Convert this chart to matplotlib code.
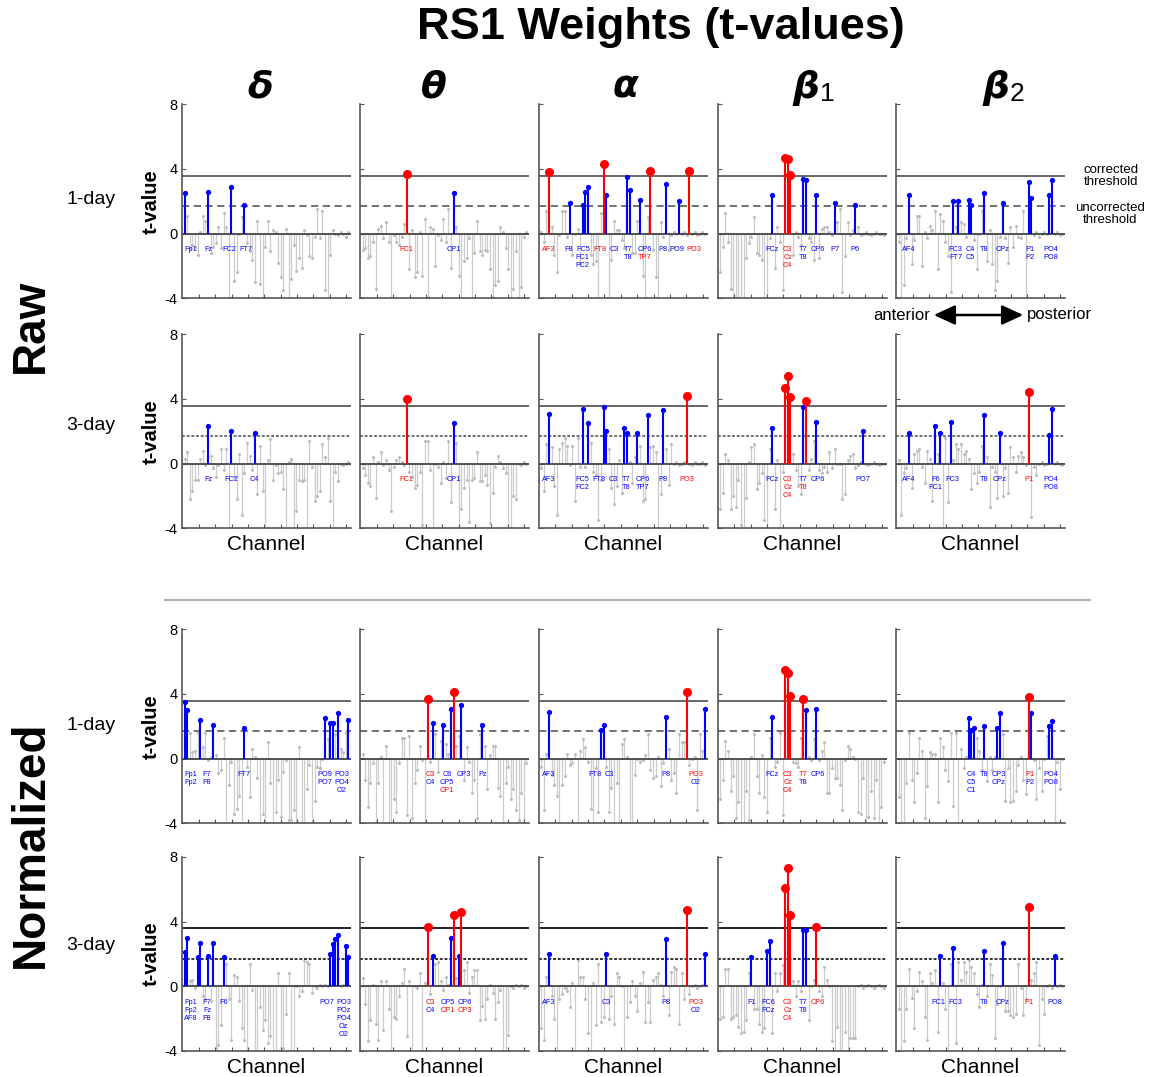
import numpy as np
import matplotlib
matplotlib.use("Agg")
import matplotlib.pyplot as plt

plt.rcParams['font.family'] = ['Liberation Sans', 'DejaVu Sans']

W, H = 1154, 1077

corr_thr = 3.58
unc_thr = 1.72

band_names = ["δ", "θ", "α", "β", "β"]
band_subs = ["", "", "", "1", "2"]
day_names = ["1-day", "3-day", "1-day", "3-day"]

# ---- Raw, 1-day ----
raw1_delta = [2.5, 1.1, -0.9, -0.7, -0.8, -1.3, 0.1, 1.1, 0.8, 2.6, -1.2, -0.8, -0.6, 0.4, -0.9, 1.3,
              0.4, -4.5, 2.9, -2.9, -2.4, 0.0, 1.0, 1.8, -0.6, -1.1, -1.6, -3.0, 0.8, -3.1, -4.5, -0.8,
              0.8, -1.1, 0.2, 0.1, -1.8, -2.7, -3.5, 0.3, -4.5, -2.8, -0.7, -2.3, -1.5, -2.1, 0.2, -0.1,
              -1.4, -1.5, -0.2, 1.5, -0.3, 1.4, -3.5, -4.5, -1.3, 0.2, 0.0, -0.1, 0.1, 0.0, -0.2, 0.1]
raw1_delta_lab = ["Fp1", "Fz", "FC2", "FT7"]

raw1_theta = [-1.0, -0.9, -1.5, -1.4, -0.5, -3.4, 0.3, 0.5, -0.3, 0.7, -0.5, -4.5, -0.1, -0.5, -0.7, -0.2,
              0.6, 3.7, -2.2, 0.2, -2.7, -2.4, 0.1, -2.6, 0.9, -3.9, 0.4, 0.3, -2.0, -0.1, -0.4, 0.9,
              -0.5, 1.5, -2.1, 2.5, 0.4, -2.6, -4.5, -1.7, -1.5, -0.3, -4.5, -1.2, 0.8, -1.1, -1.3, -1.0,
              -1.1, -2.2, -3.9, -3.2, -2.9, 0.4, 0.1, -0.9, -2.2, -4.5, -3.4, -1.1, -4.5, -3.3, -0.2, 0.1]
raw1_theta_lab = ["FC1", "CP1"]

raw1_alpha = [0.1, -0.5, 1.4, 3.8, 0.4, -1.3, -2.4, -0.1, 1.4, 1.4, -0.2, 1.9, -1.3, 0.0, 0.3, -1.8,
              1.8, 2.6, 2.9, -1.3, -1.9, -1.7, -4.5, 1.3, 4.3, 2.4, -4.5, -1.6, 0.8, 0.2, 0.2, -0.4,
              -0.9, 3.5, 2.7, -1.2, -1.2, 0.8, 2.1, -2.6, -4.5, 1.0, 3.9, -1.0, -2.7, -4.5, 0.7, -0.2,
              3.1, -1.0, -0.1, 0.1, 0.0, 2.0, 0.0, 0.1, -0.1, 3.9, 0.0, 0.1, -0.1, 0.0, 0.1, 0.0]
raw1_alpha_lab = ["AF3", "F8", "FC5/FC1/FC2", "FT8", "C3", "T7/T8", "CP6/TP7", "P8", "PO9", "PO3"]

raw1_beta1 = [-2.4, -0.8, 1.3, -0.5, -3.4, -4.5, -4.5, -4.5, -4.5, -4.5, -1.5, -0.6, -0.2, 1.0, -1.2, -1.3,
              -1.6, -4.5, -4.5, -0.3, 2.4, -2.1, 0.4, -0.5, -3.5, 4.7, 4.6, 3.65, -1.3, 0.1, -0.2, -0.7,
              3.4, 3.3, -0.3, -0.5, -1.6, 2.4, -1.5, 0.3, 0.4, 0.4, 0.1, -0.1, 1.9, 0.7, 1.5, -3.6,
              -1.4, 0.7, -0.1, 0.2, 1.8, 0.4, -0.1, 0.0, 0.1, 0.0, -0.1, 0.0, 0.1, 0.0, 0.0, -0.1]
raw1_beta1_lab = ["FCz", "C3/Cz/C4", "T7/T8", "CP6", "P7", "P6"]

raw1_beta2 = [-0.5, -4.5, -3.2, -0.3, 2.4, -1.9, -0.4, 1.1, 1.1, -2.0, 0.1, -0.3, 0.5, 0.2, 1.4, -2.2,
              1.2, 0.8, -0.5, -1.4, -3.6, 2.0, 0.4, 2.0, 0.7, 0.6, -0.2, 2.1, 1.8, -0.4, -2.2, 0.0,
              1.4, 2.5, -1.7, 0.2, -1.9, -3.5, -2.9, -0.2, 1.9, -0.3, -1.8, 0.4, -0.8, 0.5, -0.2, -0.3,
              1.4, -4.5, 3.2, 2.2, -0.1, 0.1, -0.2, 0.0, 0.1, 0.0, 2.4, 3.3, 0.0, 0.1, -0.1, 0.0]
raw1_beta2_lab = ["AF4", "FC3/FT7", "C4/C5", "T8", "CPz", "P1/P2", "PO4/PO8"]

# ---- Raw, 3-day ----
raw3_delta = [0.3, 0.7, -2.2, -1.7, -1.0, -1.0, 0.3, 0.8, -0.1, 2.3, 0.5, -0.3, -0.8, -0.1, 0.9, -0.4,
              0.9, -4.5, 2.0, -0.8, -2.2, 0.6, -3.2, -0.6, 1.3, 0.5, -0.4, 1.9, -1.9, 1.1, -1.7, -4.5,
              0.2, 1.5, -1.0, -0.1, -0.6, -0.5, -1.6, -4.5, 0.1, 0.3, -4.5, -2.9, -1.0, -1.1, -1.0, -4.5,
              1.4, -0.2, -2.3, -2.0, -1.7, 1.2, 0.4, 1.6, -2.3, -4.5, -0.5, -1.1, 0.0, -0.1, 0.0, 0.1]
raw3_delta_lab = ["Fz", "FC2", "C4"]

raw3_theta = [-0.3, -0.7, -1.2, -1.4, 0.4, -2.1, 0.1, 0.7, -0.1, 0.2, -0.4, -2.9, -0.2, 0.2, 0.4, 0.1,
              -0.1, 4.0, -0.5, -0.8, -1.5, -1.3, -0.5, -3.8, 1.4, 1.4, -0.4, -4.5, 0.0, -0.2, -1.2, 0.1,
              -0.9, 1.4, -2.4, 2.5, 1.3, -4.5, -2.8, -1.5, -1.0, -3.6, -1.0, -0.9, 0.7, -1.1, -1.1, -0.7,
              -1.3, -3.7, -1.8, -0.2, 0.5, 0.1, -0.3, -0.6, -4.5, -4.5, -2.0, -2.2, 0.0, -0.1, 0.1, 0.0]
raw3_theta_lab = ["FC1", "CP1"]

raw3_alpha = [-0.3, -1.7, 1.2, 3.1, 1.0, -1.4, -3.2, 0.9, 1.3, 1.6, 1.1, -0.1, 1.1, -2.3, 1.6, -0.2,
              3.4, -0.2, 2.5, 1.3, -0.5, -0.7, -3.5, -1.0, 3.5, 2.0, 0.9, -1.5, -2.5, -1.4, 0.2, -1.8,
              2.2, 1.9, 0.1, -1.2, 0.4, 1.9, 1.1, -2.3, -2.2, 3.0, 1.0, 1.1, 0.7, -4.5, -1.9, 3.3,
              0.9, -1.3, 1.2, 0.0, 0.1, -0.1, 0.0, 0.1, 4.2, 0.0, -0.1, 0.1, 0.0, 0.0, 0.1, -0.1]
raw3_alpha_lab = ["AF3", "FC5/FC2", "FT8", "C3", "T7/T8", "CP6/TP7", "P8", "PO3"]

raw3_beta1 = [-2.8, -1.8, 0.6, 0.2, -2.8, -2.0, -2.7, -1.0, -3.8, -4.5, -2.1, 0.1, 1.0, 1.2, -1.6, -1.2,
              -0.6, -3.5, -4.5, 0.9, 2.2, -2.8, 0.2, -4.5, -0.5, 4.7, 5.4, 4.1, 0.6, -0.4, -1.4, -1.9,
              3.5, 3.9, -0.4, 0.3, 1.4, 2.6, -0.4, -0.6, -0.2, -0.5, 0.7, -0.3, 0.9, 0.0, 0.0, -2.2,
              -1.9, 0.2, 0.5, 0.6, -0.3, -0.1, 0.1, 2.0, 0.0, -0.1, 0.0, 0.1, 0.0, -0.1, 0.0, 0.0]
raw3_beta1_lab = ["FCz", "C3/Cz/C4", "T7/T8", "CP6", "PO7"]

raw3_beta2 = [0.2, -3.2, -0.6, -0.3, 1.9, -1.5, 0.6, 0.8, 0.9, -0.2, -1.2, 0.8, 0.3, -2.3, 2.3, 0.6,
              1.9, -4.5, 1.6, -2.4, 2.6, 0.2, 1.2, 0.9, 1.2, 0.6, 0.8, 0.3, -1.6, -0.6, -1.2, -0.5,
              1.1, 3.0, 0.4, -2.7, -0.2, -0.5, -2.1, 1.9, -2.0, -0.3, -1.8, 1.0, 0.4, -0.5, 0.5, 0.7,
              0.4, -0.1, 4.4, -3.3, -0.2, -0.7, 0.0, 0.1, -0.1, 0.0, 1.8, 3.4, 0.0, 0.1, 0.0, -0.1]
raw3_beta2_lab = ["AF4", "F6/FC1", "FC3", "T8", "CPz", "P1", "PO4/PO8"]

# ---- Normalized, 1-day ----
norm1_delta = [3.5, 3.0, 1.6, 0.4, 0.5, 1.6, 2.4, 0.7, 1.6, -0.1, 0.1, 2.1, 0.2, -0.9, -0.7, 1.3,
               -4.5, -1.6, -0.2, -3.4, -3.1, -2.3, -4.5, 1.9, -0.5, -2.4, 0.6, 0.1, -1.2, -4.5, -3.4, -4.5,
               1.0, -1.5, -4.5, -3.3, -1.3, -3.6, -0.8, -0.1, -3.8, -3.8, -3.2, -4.5, 0.7, -4.5, -4.5, -1.9,
               -0.4, -4.5, -2.6, -0.5, -0.6, 0.0, 2.5, 1.2, 2.2, 2.2, 1.5, 2.8, 0.6, 0.4, 1.6, 2.4]
norm1_delta_lab = ["Fp1/Fp2", "F7/F8", "FT7", "PO9/PO7", "PO3/PO4/O2"]

norm1_theta = [0.3, -1.3, -3.0, -1.5, -0.3, -4.5, -1.5, 0.1, -4.5, 0.8, -4.5, -4.5, -2.5, -3.3, -0.3, 1.3,
               1.3, -3.5, 1.4, -3.7, -1.5, -0.7, 0.8, -0.1, -4.5, 3.7, -0.2, 2.2, 1.5, -0.8, 1.1, 2.1,
               0.9, 0.3, 3.1, 4.1, 0.8, 1.4, 3.3, -1.3, 0.7, -0.2, -2.1, -1.3, -3.7, 1.5, 2.1, 0.8,
               -1.9, 0.2, 0.8, 0.8, -1.8, -2.3, -4.5, -1.5, -0.5, -2.5, -1.9, -3.2, -3.8, -2.1, -4.5, -0.3]
norm1_theta_lab = ["C3/C4", "C6/CP5/CP1", "CP3", "Pz"]

norm1_alpha = [-0.5, -3.2, 0.3, 2.9, -1.0, -1.6, -2.3, -4.5, -1.6, -1.1, 0.3, -0.4, -0.3, 0.3, -4.5, 0.5,
               1.2, 0.7, -0.2, -3.1, -4.5, -0.6, -3.3, 1.8, 2.1, -0.5, -3.3, -1.8, -4.5, -1.5, -4.5, 0.9,
               1.2, 0.1, -4.5, -4.5, -1.0, 0.0, -0.2, -0.1, 0.2, 1.5, -0.7, -1.2, -1.1, 0.1, -1.7, -0.3,
               2.6, 0.6, -1.3, -0.9, -2.1, 1.5, 1.0, 1.0, 4.1, -0.4, 0.0, 0.1, -3.2, 1.5, 0.5, 3.1]
norm1_alpha_lab = ["AF3", "FT8", "C3", "P8", "PO3/O2"]

norm1_beta1 = [-2.5, -1.3, 1.1, 0.5, -2.0, -1.1, -3.7, -2.7, -4.5, -4.5, -2.0, -3.8, 0.1, 1.5, -1.1, -2.1,
               0.2, -2.4, -3.3, 1.3, 2.6, -0.5, -0.2, 1.6, -3.5, 5.5, 5.3, 3.9, -0.2, -0.3, -0.5, 1.3,
               3.7, 3.0, 0.1, -0.1, 1.2, 3.1, -0.1, 0.5, 1.0, -2.1, -2.1, -0.6, -1.2, -1.2, -1.6, -3.2,
               -0.1, 0.8, 0.6, 0.1, 0.0, -3.3, -3.4, -1.2, -4.5, -3.6, -2.0, -3.7, -1.3, -4.5, -3.0, -0.2]
norm1_beta1_lab = ["FCz", "C3/Cz/C4", "T7/T8", "CP6"]

norm1_beta2 = [-2.4, -4.5, -4.5, -1.5, 1.6, -1.3, -2.7, -0.9, 1.3, 0.5, -3.7, -1.7, 0.4, 0.3, 0.3, -2.7,
               1.3, 0.7, -0.7, -1.4, 1.6, -2.9, 1.6, -4.5, 0.6, -0.6, 0.1, 2.5, 1.8, 1.9, 1.3, 0.5,
               -0.7, 2.0, -1.4, 0.1, -0.7, 0.1, 1.9, 2.8, 1.5, -2.6, -0.6, -2.7, -2.6, -2.0, -0.4, 0.1,
               -1.3, -2.2, 3.8, 2.8, -0.1, -2.5, -0.6, -2.0, 0.0, 1.4, 2.0, 2.3, -4.5, -0.2, -1.9, 0.0]
norm1_beta2_lab = ["C4/C5/C1", "T8", "CP3/CPz", "P1/P2", "PO4/PO8"]

# ---- Normalized, 3-day ----
norm3_delta = [2.1, 3.0, 0.3, 0.4, -0.1, 1.8, 2.7, -0.6, -0.8, 1.9, -0.9, 2.7, -3.8, -3.6, -2.4, 1.8,
               1.4, -0.8, -3.3, 0.7, 0.6, -0.9, -2.6, -3.3, -4.5, 1.4, -0.2, -4.5, -4.5, -1.3, -2.7, -2.1,
               -3.5, -3.1, -4.5, -4.5, 0.8, -4.5, -3.8, -1.7, 0.8, -4.5, -4.5, 0.0, -0.6, -0.3, 1.6, 1.5,
               1.4, -0.4, 0.0, -0.1, 0.1, 0.0, 0.1, 0.0, 2.0, 2.6, 2.9, 3.2, 0.0, 0.1, 2.5, 1.8]
norm3_delta_lab = ["Fp1/Fp2/AF8", "F7/Fz/F8", "F6", "PO7", "PO3/POz/PO4/Oz/O2"]

norm3_theta = [0.5, -1.1, -3.4, -2.1, 0.1, -2.3, -3.3, 0.3, -2.7, 0.3, -1.4, -4.5, -1.9, -2.0, -0.6, 0.2,
               1.1, -3.1, 0.3, -4.5, 0.0, -0.1, 0.8, -4.5, 0.2, 3.7, -0.5, 1.9, 1.4, 1.5, 0.3, -0.2,
               0.6, 0.1, 3.0, 4.4, 0.5, 1.9, 4.6, 1.0, 1.5, -0.4, 0.6, 1.0, 1.0, -2.1, -1.2, -2.0,
               -0.8, 0.1, -0.4, -2.0, -1.0, -0.2, -4.5, -4.5, -3.0, 0.0, -0.1, 0.1, 0.0, 0.1, -0.1, 0.0]
norm3_theta_lab = ["C3/C4", "CP5/CP1", "CP6/CP3"]

norm3_alpha = [-2.6, -3.3, 0.6, 2.0, -0.6, -2.0, -4.5, -0.8, -0.5, -0.1, -0.3, -1.3, 0.2, -4.5, 1.6, 0.6,
               0.6, -0.8, -2.9, -4.5, 0.2, -2.4, 1.4, -2.2, -1.9, 2.0, -2.0, -0.6, -2.3, 0.8, 0.6, 0.0,
               -4.5, -1.9, -1.0, 0.3, -0.6, -1.5, 0.2, 0.9, -2.2, -1.0, -2.2, 0.4, 0.6, 0.8, 0.1, -0.6,
               2.9, -1.8, 0.9, 1.2, 1.1, -2.3, 0.8, -0.8, 4.7, -0.5, 0.0, 0.1, -0.1, 0.0, 0.1, 2.0]
norm3_alpha_lab = ["AF3", "C3", "P8", "PO3/O2"]

norm3_beta1 = [-2.0, -1.9, 1.1, 1.1, -2.0, -1.9, -1.8, -2.5, -2.9, -2.8, -2.1, 0.8, 1.8, -1.4, -1.4, -2.3,
               -2.8, -2.6, 2.2, 2.8, -2.9, 0.8, -0.3, 0.8, 1.3, 6.1, 7.3, 4.4, 0.3, -0.6, 0.3, -0.3,
               3.5, 3.5, -2.1, 0.0, 0.4, 3.65, -0.3, -0.6, 1.2, 0.4, 0.0, -3.4, -4.5, -2.5, -4.5, -4.5,
               -2.8, -4.5, -3.2, -3.2, -3.2, 0.0, 0.1, -0.1, 0.0, 0.1, 0.0, -0.1, 0.0, 0.1, 0.0, -0.1]
norm3_beta1_lab = ["F1", "FC6/FCz", "C3/Cz/C4", "T7/T8", "CP6"]

norm3_beta2 = [-1.4, -4.5, -3.4, -1.4, 1.1, -0.7, -2.6, -0.3, 0.9, 0.3, -1.9, -3.3, 0.8, 0.2, 1.0, -2.8,
               1.9, 0.2, -1.4, -4.5, 1.4, 2.4, -3.5, 1.5, 0.4, 1.5, 0.9, 1.6, 1.2, 0.8, -0.5, -1.3,
               0.1, 2.2, -0.6, 1.4, 0.7, -3.2, -1.1, 0.0, 2.7, -1.5, -1.5, -1.8, -1.9, -1.7, 1.4, -0.1,
               -1.8, -0.8, 4.9, 0.4, 0.8, 1.5, -3.6, -0.8, -1.7, 0.0, 0.1, -0.1, 1.9, 0.0, 0.1, 0.0]
norm3_beta2_lab = ["FC1", "FC3", "T8", "CPz", "P1", "PO8"]

panels = [
    [(raw1_delta, raw1_delta_lab), (raw1_theta, raw1_theta_lab), (raw1_alpha, raw1_alpha_lab),
     (raw1_beta1, raw1_beta1_lab), (raw1_beta2, raw1_beta2_lab)],
    [(raw3_delta, raw3_delta_lab), (raw3_theta, raw3_theta_lab), (raw3_alpha, raw3_alpha_lab),
     (raw3_beta1, raw3_beta1_lab), (raw3_beta2, raw3_beta2_lab)],
    [(norm1_delta, norm1_delta_lab), (norm1_theta, norm1_theta_lab), (norm1_alpha, norm1_alpha_lab),
     (norm1_beta1, norm1_beta1_lab), (norm1_beta2, norm1_beta2_lab)],
    [(norm3_delta, norm3_delta_lab), (norm3_theta, norm3_theta_lab), (norm3_alpha, norm3_alpha_lab),
     (norm3_beta1, norm3_beta1_lab), (norm3_beta2, norm3_beta2_lab)],
]

GRAY = "#cccccc"
BLUE = "#0000ff"
RED = "#ff0000"
AXC = "#555555"


def place_labels(ax, ch, vals, labs):
    sig = ch[vals > unc_thr]
    groups = [g.split("/") for g in labs]
    k = 0
    cen, wid, mem = [], [], []
    for g in groups:
        m = sig[k:k + len(g)]
        k += len(g)
        cen.append(m.mean())
        wid.append(1.75 * max(len(s) for s in g))
        mem.append(m)
    cen = np.array(cen, dtype=float)
    # push overlapping labels apart
    for _ in range(80):
        for i in range(1, len(cen)):
            need = (wid[i - 1] + wid[i]) / 2 + 1.2
            d = cen[i] - cen[i - 1]
            if d < need:
                cen[i - 1] -= (need - d) / 2
                cen[i] += (need - d) / 2
        for i in range(len(cen)):
            cen[i] = min(max(cen[i], wid[i] / 2 + 0.6), 65.5 - wid[i] / 2)
    for g, c, m in zip(groups, cen, mem):
        for j, (name, chn) in enumerate(zip(g, m)):
            v = vals[chn - 1]
            col = RED if v > corr_thr else BLUE
            ax.text(c, -1.0 - 0.5 * j, name, color=col, fontsize=5.3,
                    ha="center", va="center", zorder=5)


def draw_panel(ax, vals, labs, row, col):
    vals = np.asarray(vals, dtype=float)
    ch = np.arange(1, len(vals) + 1)
    gray = vals <= unc_thr
    blue = (vals > unc_thr) & (vals <= corr_thr)
    red = vals > corr_thr

    dark = "#222222" if row == 3 else "#666666"
    dots = (0, (1.6, 1.0)) if row in (1, 3) else (0, (4, 2.5))

    ax.vlines(ch[gray], 0, vals[gray], color=GRAY, lw=0.9, zorder=1)
    ax.plot(ch[gray], vals[gray], "o", ms=2.2, color="#bdbdbd", mec="none", zorder=1)
    ax.axhline(0, color="#444444", lw=1.3, zorder=2)
    ax.axhline(corr_thr, color=dark, lw=1.4, zorder=2)
    ax.axhline(unc_thr, color=dark, lw=1.3, ls=dots, zorder=2)
    ax.vlines(ch[blue], 0, vals[blue], color=BLUE, lw=1.5, zorder=3)
    ax.plot(ch[blue], vals[blue], "o", ms=3.8, color=BLUE, mec="none", zorder=3)
    ax.vlines(ch[red], 0, vals[red], color=RED, lw=1.5, zorder=4)
    ax.plot(ch[red], vals[red], "o", ms=6.5, color=RED, mec="none", zorder=4)

    place_labels(ax, ch, vals, labs)

    ax.set_xlim(0, 65)
    ax.set_ylim(-4, 8)
    for s in ("top", "right"):
        ax.spines[s].set_visible(False)
    for s in ("left", "bottom"):
        ax.spines[s].set_color(AXC)
        ax.spines[s].set_linewidth(1.2)
    ax.set_xticks(np.linspace(6.5, 63.1, 10))
    ax.set_xticklabels([])
    ax.set_yticks([-4, 0, 4, 8])
    ax.tick_params(direction="in", length=3, width=0.8, color=AXC, labelsize=10.5, pad=3)
    if col == 0:
        ax.set_yticklabels(["-4", "0", "4", "8"])
        ax.set_ylabel("t-value", fontsize=14.5, fontweight="bold")
        ax.yaxis.set_label_coords(-0.124, 0.5)
    else:
        ax.set_yticklabels([])
    if row in (1, 3):
        ax.set_xlabel("Channel", fontsize=15, labelpad=2)


fig = plt.figure(figsize=(W / 100, H / 100), dpi=100)

col_left = [182, 360, 538.5, 717.5, 896]
row_bottom = [298.3, 528.3, 823.3, 1051]
ax_w, ax_h = 169, 194

for r in range(4):
    for c in range(5):
        ax = fig.add_axes([col_left[c] / W, 1 - row_bottom[r] / H, ax_w / W, ax_h / H])
        vals, labs = panels[r][c]
        draw_panel(ax, vals, labs, r, c)

# title and band headers
fig.text(661 / W, 1 - 28 / H, "RS1 Weights (t-values)", fontsize=32.5, fontweight="bold",
         ha="center", va="center")
head_x = [260, 434, 625, 806, 996]
for c in range(5):
    fig.text(head_x[c] / W, 1 - 88 / H, band_names[c], fontsize=27, fontweight="bold",
             style="italic", family="DejaVu Sans", ha="center", va="center")
    if band_subs[c]:
        fig.text((head_x[c] + 14) / W, 1 - 94 / H, band_subs[c], fontsize=19,
                 ha="left", va="center")

# row labels
fig.text(31 / W, 1 - 326 / H, "Raw", fontsize=33, fontweight="bold", rotation=90,
         ha="center", va="center")
fig.text(31 / W, 1 - 844 / H, "Normalized", fontsize=33, fontweight="bold", rotation=90,
         ha="center", va="center")
for y, name in zip([200, 426, 726, 945], day_names):
    fig.text(91 / W, 1 - y / H, name, fontsize=14, ha="center", va="center")

# separator between raw and normalized
fig.add_artist(plt.Line2D([165 / W, 1090 / W], [1 - 600 / H, 1 - 600 / H],
                          color="#b4b4b4", lw=1.6))

# threshold legend text
fig.text(1111 / W, 1 - 176 / H, "corrected\nthreshold", fontsize=9.5, ha="center", va="center",
         linespacing=0.95)
fig.text(1110 / W, 1 - 214 / H, "uncorrected\nthreshold", fontsize=9.5, ha="center", va="center",
         linespacing=0.95)

# anterior / posterior arrow
fig.text(930 / W, 1 - 315 / H, "anterior", fontsize=12, ha="right", va="center")
fig.text(1027 / W, 1 - 315 / H, "posterior", fontsize=12, ha="left", va="center")
fig.add_artist(matplotlib.patches.FancyArrowPatch(
    (931 / W, 1 - 315 / H), (1026 / W, 1 - 315 / H), transform=fig.transFigure,
    arrowstyle="<|-|>,head_length=13,head_width=6", color="black", lw=1.8, mutation_scale=1))

fig.savefig("out.png", dpi=100)
